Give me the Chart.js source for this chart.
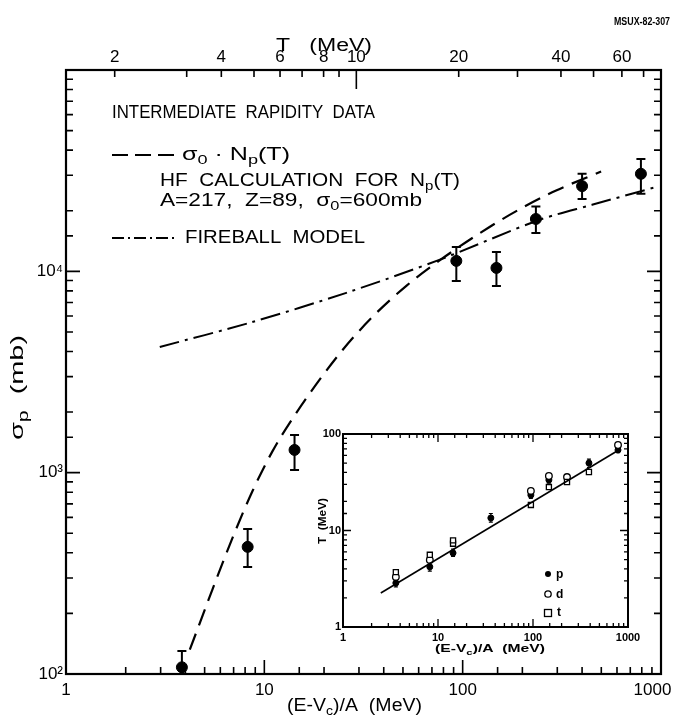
<!DOCTYPE html>
<html>
<head>
<meta charset="UTF-8">
<title>Intermediate rapidity data</title>
<script src="https://cdn.jsdelivr.net/npm/chart.js@4.4.0/dist/chart.umd.min.js"></script>
<style>
body { margin: 0; background: #fff; }
#wrap { position: relative; width: 677px; height: 720px; }
#inset { position: absolute; left: 300px; top: 420px; }
</style>
</head>
<body>
<div id="wrap">
  <canvas id="main" width="677" height="720"></canvas>
  <canvas id="inset" width="350" height="250"></canvas>
</div>

<script>
// ---- main panel: proton cross section vs (E-Vc)/A ----
var dataE     = [3.84, 8.24, 14.2, 92.9, 148, 234, 400, 792];
var dataSigma = [108, 428, 1297, 11270, 10400, 18200, 26500, 30500];
var dataLow   = [95, 340, 1031, 8960, 8450, 15500, 22900, 24300];
var dataHigh  = [130, 525, 1538, 13200, 12470, 21000, 30500, 36100];

// sigma0 * Np(T), HF calculation
var hfE     = [4.21, 5.49, 6.92, 8.73, 11.0, 14.5, 23.9, 35.1, 52.0, 76.2, 136, 200, 296, 499];
var hfSigma = [132, 265, 476, 813, 1279, 1982, 3890, 5940, 8470, 11300, 16560, 20700, 25200, 31300];

// fireball model
var fbE     = [2.97, 8.43, 25.9, 76.2, 243, 449, 953];
var fbSigma = [4210, 5550, 7820, 11400, 18000, 21400, 26300];

// axis ticks
var xTickValues = [1, 10, 100, 1000];
var xTickText   = ['1', '10', '100', '1000\u2003'];
var yTickValues = [100, 1000, 10000];
var yTickText   = ['10\u00B2', '10\u00B3', '10\u2074'];
// top axis: T (MeV) ticks, placed at the (E-Vc)/A they correspond to
var topTickLabels = ['2', '', '4', '', '6', '', '8', '', '10', '20', '', '40', '', '60', ''];
var topTickE      = [1.76, 4.06, 6.07, 8.87, 12.0, 15.5, 19.9, 23.8, 29.1, 95.5, 189, 313, 457, 635, 817];

// ---- inset: T vs (E-Vc)/A ----
var insetPE    = [3.6, 8.2, 14.4, 36, 95, 147, 388, 785];
var insetPT    = [2.86, 4.2, 5.85, 13.5, 23.3, 33.4, 50, 68.3];
var insetPLow  = [2.6, 3.8, 5.4, 12.2, 21.5, 31, 45, 64];
var insetPHigh = [3.2, 4.7, 6.4, 15.0, 25.5, 36, 55, 73];
var insetDE    = [3.6, 8.2, 95, 147, 228, 785];
var insetDT    = [3.3, 4.95, 25.7, 36.7, 35.8, 76.9];
var insetTE    = [3.6, 8.2, 14.4, 14.4, 95, 147, 228, 388];
var insetTT    = [3.7, 5.6, 7.3, 7.9, 18.4, 28.2, 31.8, 40.4];
var fitE       = [2.5, 800];
var fitT       = [2.25, 68.3];
var insetXTickValues = [1, 10, 100, 1000];
var insetXTickText   = ['1', '10', '100', '1000'];
var insetYTickValues = [1, 10, 100];
var insetYTickText   = ['1', '10', '100'];

var F = '"Liberation Sans", "DejaVu Sans", sans-serif';

function pts(xs, ys) {
  return xs.map(function(x, i) { return {x: x, y: ys[i]}; });
}
function lookup(v, vals, txt) {
  for (var i = 0; i < vals.length; i++) {
    if (Math.abs(v - vals[i]) / vals[i] < 1e-6) return txt[i];
  }
  return '';
}

// text with sub-scripts, left edge x, vertical centre y, squeezed to width w
function drawRich(ctx, parts, x, y, size, w, weight) {
  ctx.save();
  var fonts = parts.map(function(p) {
    return (weight || '') + ' ' + (p[1] ? Math.round(size * 0.72) : size) + 'px ' + F;
  });
  var total = 0;
  parts.forEach(function(p, i) { ctx.font = fonts[i]; total += ctx.measureText(p[0]).width; });
  ctx.translate(x, y);
  if (w) ctx.scale(w / total, 1);
  ctx.fillStyle = '#000';
  ctx.textBaseline = 'middle';
  ctx.textAlign = 'left';
  var cx = 0;
  parts.forEach(function(p, i) {
    ctx.font = fonts[i];
    ctx.fillText(p[0], cx, p[1] === 'sub' ? size * 0.32 : 0);
    cx += ctx.measureText(p[0]).width;
  });
  ctx.restore();
}

// frame + inward ticks
var frameTicks = {
  id: 'frameTicks',
  afterDraw: function(chart, args, o) {
    var ctx = chart.ctx, a = chart.chartArea;
    ctx.save();
    ctx.strokeStyle = '#000';
    ctx.lineWidth = o.lw;
    ctx.strokeRect(a.left, a.top, a.right - a.left, a.bottom - a.top);
    ctx.lineWidth = o.tw;
    ctx.beginPath();
    var sx = chart.scales.x, sy = chart.scales.y, st = chart.scales.xT;
    sx.ticks.forEach(function(t) {
      var p = sx.getPixelForValue(t.value);
      if (p <= a.left + 1 || p >= a.right - 1) return;
      var l = Math.log10(t.value);
      var len = Math.abs(l - Math.round(l)) < 1e-6 ? o.major : o.minor;
      ctx.moveTo(p, a.bottom); ctx.lineTo(p, a.bottom - len);
      if (o.mirrorX) { ctx.moveTo(p, a.top); ctx.lineTo(p, a.top + len); }
    });
    sy.ticks.forEach(function(t) {
      var p = sy.getPixelForValue(t.value);
      if (p <= a.top + 1 || p >= a.bottom - 1) return;
      var l = Math.log10(t.value);
      var len = Math.abs(l - Math.round(l)) < 1e-6 ? o.major : o.minor;
      ctx.moveTo(a.left, p); ctx.lineTo(a.left + len, p);
      if (o.mirrorY) { ctx.moveTo(a.right, p); ctx.lineTo(a.right - len, p); }
    });
    if (st) {
      topTickE.forEach(function(v, i) {
        var p = st.getPixelForValue(v);
        var len = topTickLabels[i] === '10' ? o.major + 5 : o.minor;
        ctx.moveTo(p, a.top); ctx.lineTo(p, a.top + len);
      });
    }
    ctx.stroke();
    ctx.restore();
  }
};

// vertical error bars
function errorBars(id, xs, lo, hi, cap, lw) {
  return {
    id: id,
    beforeDatasetsDraw: function(chart) {
      var ctx = chart.ctx, sx = chart.scales.x, sy = chart.scales.y, a = chart.chartArea;
      ctx.save();
      ctx.beginPath();
      ctx.rect(a.left, a.top, a.right - a.left, a.bottom - a.top);
      ctx.clip();
      ctx.strokeStyle = '#000';
      ctx.lineWidth = lw;
      ctx.beginPath();
      xs.forEach(function(x, i) {
        var px = sx.getPixelForValue(x);
        var y1 = sy.getPixelForValue(lo[i]), y2 = sy.getPixelForValue(hi[i]);
        ctx.moveTo(px, y1); ctx.lineTo(px, y2);
        ctx.moveTo(px - cap, y1); ctx.lineTo(px + cap, y1);
        ctx.moveTo(px - cap, y2); ctx.lineTo(px + cap, y2);
      });
      ctx.stroke();
      ctx.restore();
    }
  };
}

var mainText = {
  id: 'mainText',
  afterDraw: function(chart) {
    var ctx = chart.ctx;
    drawRich(ctx, [['MSUX-82-307']], 614, 22, 11, 56, 'bold');
    drawRich(ctx, [['T   (MeV)']], 276, 46, 18, 96);
    drawRich(ctx, [['INTERMEDIATE  RAPIDITY  DATA']], 112, 113, 18, 263);

    ctx.save();
    ctx.strokeStyle = '#000';
    ctx.lineWidth = 2;
    ctx.setLineDash([16, 7]);
    ctx.beginPath(); ctx.moveTo(112, 155); ctx.lineTo(175, 155); ctx.stroke();
    ctx.setLineDash([12, 4, 2, 4]);
    ctx.beginPath(); ctx.moveTo(112, 238); ctx.lineTo(178, 238); ctx.stroke();
    ctx.restore();

    drawRich(ctx, [['\u03C3'], ['0', 'sub'], [' \u00B7 N'], ['p', 'sub'], ['(T)']], 182, 155, 18, 108);
    drawRich(ctx, [['HF  CALCULATION  FOR  N'], ['p', 'sub'], ['(T)']], 160, 181, 18, 300);
    drawRich(ctx, [['A=217,  Z=89,  \u03C3'], ['0', 'sub'], ['=600mb']], 160, 201, 18, 262);
    drawRich(ctx, [['FIREBALL  MODEL']], 185, 238, 18, 180);

    drawRich(ctx, [['(E-V'], ['c', 'sub'], [')/A  (MeV)']], 287, 706, 18, 135);

    ctx.save();
    ctx.translate(18, 440);
    ctx.rotate(-Math.PI / 2);
    drawRich(ctx, [['\u03C3'], ['p', 'sub'], ['  (mb)']], 0, 0, 19, 105);
    ctx.restore();
  }
};

var noGrid = { display: false, drawTicks: false };

new Chart(document.getElementById('main'), {
  type: 'scatter',
  data: {
    datasets: [
      {
        label: 'data',
        data: pts(dataE, dataSigma),
        backgroundColor: '#000',
        borderColor: '#000',
        pointRadius: 5.5
      },
      {
        label: 'sigma0 Np(T)',
        data: pts(hfE, hfSigma),
        showLine: true,
        borderColor: '#000',
        borderWidth: 2.2,
        borderDash: [17, 9],
        pointRadius: 0,
        cubicInterpolationMode: 'monotone'
      },
      {
        label: 'fireball',
        data: pts(fbE, fbSigma),
        showLine: true,
        borderColor: '#000',
        borderWidth: 2,
        borderDash: [20, 6, 3, 6],
        pointRadius: 0,
        tension: 0.3
      }
    ]
  },
  options: {
    responsive: false,
    animation: false,
    events: [],
    layout: { padding: { right: 16 } },
    plugins: {
      legend: { display: false },
      tooltip: { enabled: false },
      frameTicks: { lw: 2.2, tw: 1.6, major: 14, minor: 7, mirrorX: false, mirrorY: true }
    },
    scales: {
      x: {
        type: 'logarithmic', position: 'bottom', min: 1, max: 1000,
        grid: noGrid, border: { display: false },
        ticks: {
          autoSkip: false, maxRotation: 0, padding: 6, color: '#000',
          font: { family: F, size: 17 },
          callback: function(v) { return lookup(v, xTickValues, xTickText); }
        },
        afterFit: function(s) { s.height = 46; s.paddingLeft = 0; s.paddingRight = 0; }
      },
      xT: {
        type: 'logarithmic', position: 'top', min: 1, max: 1000,
        grid: noGrid, border: { display: false },
        afterBuildTicks: function(s) { s.ticks = topTickE.map(function(v) { return {value: v}; }); },
        ticks: {
          autoSkip: false, maxRotation: 0, padding: 2, color: '#000',
          font: { family: F, size: 17 },
          callback: function(v, i) { return topTickLabels[i]; }
        },
        afterFit: function(s) { s.height = 70; s.paddingLeft = 0; s.paddingRight = 0; }
      },
      y: {
        type: 'logarithmic', position: 'left', min: 100, max: 100000,
        grid: noGrid, border: { display: false },
        ticks: {
          autoSkip: false, padding: 3, color: '#000',
          font: { family: F, size: 17 },
          callback: function(v) { return lookup(v, yTickValues, yTickText); }
        },
        afterFit: function(s) { s.width = 66; s.paddingTop = 0; s.paddingBottom = 0; }
      }
    }
  },
  plugins: [frameTicks, errorBars('mainErr', dataE, dataLow, dataHigh, 4.5, 2), mainText]
});

// ---- inset chart ----
var insetText = {
  id: 'insetText',
  beforeDraw: function(chart) {
    var ctx = chart.ctx, a = chart.chartArea;
    ctx.save();
    ctx.fillStyle = '#fff';
    ctx.fillRect(a.left, a.top, a.right - a.left, a.bottom - a.top);
    ctx.restore();
  },
  afterDraw: function(chart) {
    var ctx = chart.ctx;
    drawRich(ctx, [['(E-V'], ['c', 'sub'], [')/A  (MeV)']], 135, 229, 11, 110, 'bold');
    ctx.save();
    ctx.translate(23, 124);
    ctx.rotate(-Math.PI / 2);
    drawRich(ctx, [['T  (MeV)']], 0, 0, 10, 46, 'bold');
    ctx.restore();

    // legend
    ctx.save();
    ctx.strokeStyle = '#000';
    ctx.fillStyle = '#000';
    ctx.lineWidth = 1.3;
    ctx.beginPath(); ctx.arc(248, 154, 3, 0, Math.PI * 2); ctx.fill();
    ctx.beginPath(); ctx.arc(248, 174, 3.2, 0, Math.PI * 2); ctx.stroke();
    ctx.strokeRect(244.5, 189.5, 7, 7);
    ctx.restore();
    drawRich(ctx, [['p']], 256, 155, 12, 0, 'bold');
    drawRich(ctx, [['d']], 256, 175, 12, 0, 'bold');
    drawRich(ctx, [['t']], 257, 193, 12, 0, 'bold');
  }
};

new Chart(document.getElementById('inset'), {
  type: 'scatter',
  data: {
    datasets: [
      {
        label: 'fit',
        data: pts(fitE, fitT),
        showLine: true,
        borderColor: '#000',
        borderWidth: 1.6,
        pointRadius: 0
      },
      {
        label: 't',
        data: pts(insetTE, insetTT),
        pointStyle: 'rect',
        pointRadius: 3.6,
        backgroundColor: '#fff',
        borderColor: '#000',
        borderWidth: 1.3
      },
      {
        label: 'd',
        data: pts(insetDE, insetDT),
        pointStyle: 'circle',
        pointRadius: 3.3,
        backgroundColor: '#fff',
        borderColor: '#000',
        borderWidth: 1.3
      },
      {
        label: 'p',
        data: pts(insetPE, insetPT),
        pointStyle: 'circle',
        pointRadius: 3,
        backgroundColor: '#000',
        borderColor: '#000'
      }
    ]
  },
  options: {
    responsive: false,
    animation: false,
    events: [],
    layout: { padding: { top: 14, right: 22 } },
    plugins: {
      legend: { display: false },
      tooltip: { enabled: false },
      frameTicks: { lw: 2, tw: 1.3, major: 8, minor: 4, mirrorX: true, mirrorY: true }
    },
    scales: {
      x: {
        type: 'logarithmic', position: 'bottom', min: 1, max: 1000,
        grid: noGrid, border: { display: false },
        ticks: {
          autoSkip: false, maxRotation: 0, padding: 4, color: '#000',
          font: { family: F, size: 11, weight: 'bold' },
          callback: function(v) { return lookup(v, insetXTickValues, insetXTickText); }
        },
        afterFit: function(s) { s.height = 43; s.paddingLeft = 0; s.paddingRight = 0; }
      },
      y: {
        type: 'logarithmic', position: 'left', min: 1, max: 100,
        grid: noGrid, border: { display: false },
        ticks: {
          autoSkip: false, padding: 2, color: '#000',
          font: { family: F, size: 11, weight: 'bold' },
          callback: function(v) { return lookup(v, insetYTickValues, insetYTickText); }
        },
        afterFit: function(s) { s.width = 43; s.paddingTop = 0; s.paddingBottom = 0; }
      }
    }
  },
  plugins: [insetText, frameTicks, errorBars('insetErr', insetPE, insetPLow, insetPHigh, 2, 1.2)]
});
</script>
</body>
</html>
